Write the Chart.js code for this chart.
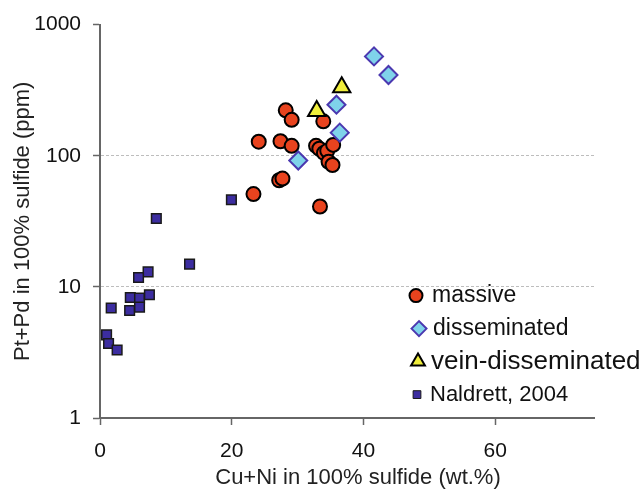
<!DOCTYPE html>
<html>
<head>
<meta charset="utf-8">
<script src="https://cdn.jsdelivr.net/npm/chart.js@4/dist/chart.umd.min.js"></script>
<style>
  body { margin: 0; background: #fff; }
  #wrap { width: 641px; height: 490px; }
</style>
</head>
<body>
<div id="wrap"><canvas id="chart" width="641" height="490"></canvas></div>
<script>
// Data (x: Cu+Ni wt.%, y: Pt+Pd ppm)
const massiveX = [28.2, 29.1, 33.9, 24.1, 27.4, 29.1, 32.8, 33.3, 34.0, 34.5, 35.4, 34.7, 35.3, 27.2, 27.7, 23.3, 33.4];
const massiveY = [222, 188, 183, 128, 129, 119, 119, 113, 105, 109, 121, 90, 85, 65, 67, 51, 41];
const dissX = [41.6, 43.8, 35.9, 36.4, 30.1];
const dissY = [572, 413, 245, 150, 92];
const veinX = [36.7, 32.9];
const veinY = [333, 219];
const naldrettX = [8.55, 13.6, 7.3, 5.85, 4.6, 6.0, 7.5, 1.7, 4.5, 6.0, 1.0, 1.3, 2.6, 19.95];
const naldrettY = [33.2, 14.9, 13.0, 11.8, 8.3, 8.2, 8.7, 6.9, 6.6, 7.0, 4.3, 3.7, 3.3, 46.2];
const seriesNames = ['massive', 'disseminated', 'vein-disseminated', 'Naldrett, 2004'];
const xTicks = [0, 20, 40, 60];
const yTicks = [1, 10, 100, 1000];
const xTitle = 'Cu+Ni in 100% sulfide (wt.%)';
const yTitle = 'Pt+Pd in 100% sulfide (ppm)';

const toPoints = (xs, ys) => xs.map((x, i) => ({ x: x, y: ys[i] }));
const FONT = 'Liberation Sans, Arial, sans-serif';

// legend inside the plot, item font sizes differ like in the original
const legendPlugin = {
  id: 'insideLegend',
  afterDraw(chart) {
    const ctx = chart.ctx;
    const a = chart.chartArea;
    const rows = [
      { ds: 0, dx: 316, dy: 271, r: 6.5, size: 23, tx: 332 },
      { ds: 1, dx: 319, dy: 304, r: 7.5, size: 23, tx: 333 },
      { ds: 2, dx: 318, dy: 337, r: 8, size: 26, tx: 331 },
      { ds: 3, dx: 317, dy: 370, r: 5.5, size: 22, tx: 330 }
    ];
    ctx.save();
    rows.forEach(row => {
      const d = chart.data.datasets[row.ds];
      const px = a.left + row.dx, py = a.top + row.dy;
      ctx.fillStyle = d.backgroundColor;
      ctx.strokeStyle = d.borderColor;
      ctx.lineWidth = row.ds === 3 ? 1 : 2;
      Chart.helpers.drawPoint(ctx, { pointStyle: d.pointStyle, radius: row.r, borderWidth: ctx.lineWidth }, px, py);
      ctx.fillStyle = '#111';
      ctx.font = row.size + 'px ' + FONT;
      ctx.textBaseline = 'middle';
      ctx.textAlign = 'left';
      ctx.fillText(seriesNames[row.ds], a.left + row.tx, py);
    });
    // x axis title sits a little right of the plot centre in the original
    ctx.fillStyle = '#222';
    ctx.font = '22px ' + FONT;
    ctx.textAlign = 'center';
    ctx.fillText(xTitle, a.left + 258, 478);
    ctx.restore();
  }
};

new Chart(document.getElementById('chart'), {
  type: 'scatter',
  data: {
    datasets: [
      {
        label: seriesNames[0],
        data: toPoints(massiveX, massiveY),
        pointStyle: 'circle',
        pointRadius: 7,
        backgroundColor: '#e8431e',
        borderColor: '#000',
        borderWidth: 2,
        order: 4
      },
      {
        label: seriesNames[1],
        data: toPoints(dissX, dissY),
        pointStyle: 'rectRot',
        pointRadius: 9,
        backgroundColor: '#7fd3ea',
        borderColor: '#4b38b0',
        borderWidth: 2,
        order: 3
      },
      {
        label: seriesNames[2],
        data: toPoints(veinX, veinY),
        pointStyle: 'triangle',
        pointRadius: 10,
        backgroundColor: '#f0ee3c',
        borderColor: '#000',
        borderWidth: 2,
        order: 2
      },
      {
        label: seriesNames[3],
        data: toPoints(naldrettX, naldrettY),
        pointStyle: 'rect',
        pointRadius: 6.8,
        backgroundColor: '#3c2da0',
        borderColor: '#1a1a1a',
        borderWidth: 1.5,
        order: 1
      }
    ]
  },
  options: {
    responsive: false,
    animation: false,
    layout: { padding: { top: 22, right: 47, left: 0, bottom: 0 } },
    plugins: {
      legend: { display: false },
      tooltip: { enabled: false }
    },
    scales: {
      x: {
        type: 'linear',
        min: 0,
        max: 75,
        afterBuildTicks: s => { s.ticks = xTicks.map(v => ({ value: v })); },
        afterFit: s => { s.height = 72; },
        grid: { drawOnChartArea: false, drawTicks: true, tickLength: 7, tickColor: '#666', tickWidth: 1.5 },
        border: { color: '#666', width: 2 },
        ticks: { color: '#111', padding: 14, font: { family: FONT, size: 21 } }
      },
      y: {
        type: 'logarithmic',
        min: 1,
        max: 1000,
        afterBuildTicks: s => { s.ticks = yTicks.map(v => ({ value: v })); },
        afterFit: s => { s.width = 100; },
        grid: {
          color: c => (c.tick && (c.tick.value === 10 || c.tick.value === 100)) ? '#bdbdbd' : 'rgba(0,0,0,0)',
          lineWidth: 1,
          tickLength: 7,
          tickColor: '#666',
          tickWidth: 1.5
        },
        border: { color: '#666', width: 2, dash: [3, 2] },
        ticks: {
          color: '#111',
          padding: 12,
          font: { family: FONT, size: 21 },
          callback: v => String(v)
        },
        title: {
          display: true,
          text: yTitle,
          color: '#222',
          font: { family: FONT, size: 22 },
          padding: { top: 10, bottom: 0 }
        }
      }
    }
  },
  plugins: [legendPlugin]
});
</script>
</body>
</html>
